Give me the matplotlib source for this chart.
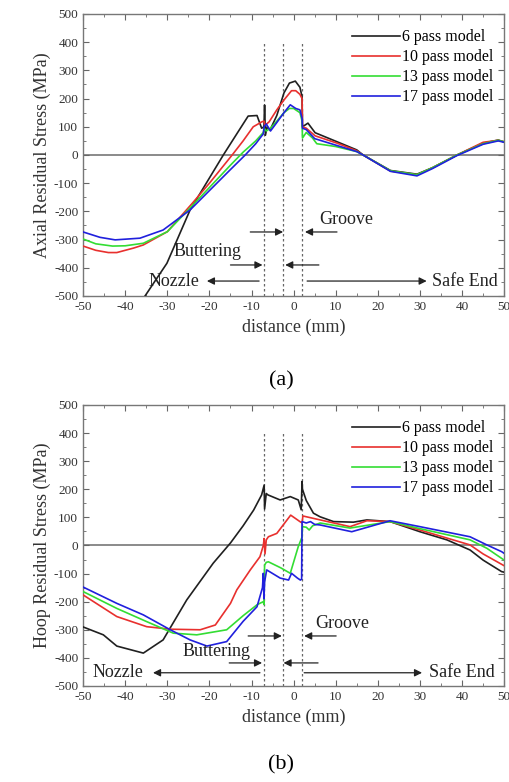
import matplotlib
matplotlib.use("Agg")
import matplotlib.pyplot as plt
from matplotlib.ticker import MultipleLocator

plt.rcParams['font.family'] = ['Liberation Serif', 'DejaVu Serif']
plt.rcParams['axes.unicode_minus'] = False

# ---- data ----
series_names = ['6 pass model', '10 pass model', '13 pass model', '17 pass model']
series_colors = ['#202020', '#e8302e', '#33dd33', '#2020dd']

# (a) axial residual stress
axial_x_6 = [-35.3, -30.1, -24.6, -16.7, -13.5, -10.8, -8.7, -7.6, -7.05, -6.9, -6.7, -6.3, -5.6,
             -4, -2.3, -1, 0.4, 1.5, 2.0, 2.1, 3.4, 5.1, 10.3, 15, 16.5, 23, 29.3, 33, 38.8, 45, 48.6, 50]
axial_y_6 = [-500, -384, -195, 0, 75, 138, 140, 95, 100, 177, 70, 100, 89,
             140, 220, 255, 262, 240, 207, 100, 113, 79, 47, 18, 0, -55, -68, -45, 0, 42, 53, 46]
axial_x_10 = [-50, -47, -44, -42, -38, -35.7, -30, -24, -20, -14.6, -12, -9.6, -7.5, -7.0, -6.8,
              -5.8, -4, -2.3, -0.5, 0.5, 1.5, 2.0, 2.1, 3.0, 5.1, 10.3, 15, 16.5, 23, 29.3, 33,
              38.8, 45, 48.6, 50]
axial_y_10 = [-323, -338, -346, -346, -330, -319, -272, -170, -100, 0, 50, 100, 118, 120, 105,
              118, 160, 195, 228, 228, 215, 200, 100, 95, 68, 42, 15, 0, -57, -70, -45,
              0, 45, 52, 47]
axial_x_13 = [-50, -47, -43, -40, -35.7, -30, -23.9, -15, -12, -9, -7.2, -7.0, -6.5, -5.5, -4,
              -2.3, -1, 0, 1.5, 2.0, 2.1, 3, 4.5, 5.5, 10, 15, 16.5, 23, 29.3, 33, 38.8, 45,
              48.6, 50]
axial_y_13 = [-298, -315, -323, -322, -313, -272, -177, -36, 10, 50, 80, 95, 85, 95, 120,
              150, 165, 165, 150, 120, 60, 80, 60, 40, 30, 12, 0, -56, -70, -45, 0, 40,
              52, 47]
axial_x_17 = [-50, -46, -42.4, -36.5, -31, -24.6, -15.1, -11.5, -9, -7.2, -7.0, -6.5, -5.5, -4,
              -2.3, -0.8, 0.5, 1.5, 2.0, 2.1, 3, 5, 10, 15, 16.5, 23, 29.3, 33, 38.8, 45,
              48.6, 50]
axial_y_17 = [-273, -292, -301, -295, -266, -195, -53, 0, 40, 75, 100, 110, 85, 115,
              150, 178, 165, 160, 130, 95, 90, 58, 35, 12, 0, -58, -74, -48, -2, 38,
              50, 45]

# (b) hoop residual stress
hoop_x_6 = [-50, -45.2, -42, -35.7, -31, -25.4, -19.1, -15, -12, -9.5, -7.6, -7.0, -6.9, -6.5,
            -6.1, -3.2, -0.8, 1.1, 1.8, 2.0, 2.1, 3, 4.7, 6.3, 9.5, 14.2, 17.4, 22.9, 30, 36.4,
            41.9, 45, 49.4, 50]
hoop_y_6 = [-290, -318, -358, -383, -336, -194, -63, 9, 70, 126, 180, 215, 130, 185,
            180, 162, 174, 162, 127, 228, 200, 160, 115, 102, 85, 83, 91, 85, 49, 20,
            -16, -52, -93, -95]
hoop_x_10 = [-50, -42, -34.9, -29.3, -22.2, -18.6, -15, -13.5, -10.3, -8, -7.2, -7.0, -6.8,
             -6.5, -6, -4, -0.7, 1.5, 2.0, 2.2, 6.3, 13.4, 17.4, 22.9, 30, 41.9, 45, 50]
hoop_y_10 = [-176, -253, -289, -298, -300, -283, -206, -158, -87, -40, 0, 25, -30,
             20, 31, 43, 108, 85, 80, 105, 91, 67, 88, 85, 55, 2, -30, -72]
hoop_x_13 = [-50, -42, -34.9, -28.6, -23, -15.9, -12, -8.6, -7.2, -7.05, -6.9, -6.5, -6, -3,
             -0.8, 1.1, 2.0, 2.1, 3.0, 3.7, 4.5, 6.3, 13.4, 22.9, 30, 41.9, 45.9, 50]
hoop_y_13 = [-164, -224, -271, -312, -318, -300, -250, -210, -200, -210, -70, -60, -58, -80,
             -99, -4, 30, 67, 65, 55, 70, 80, 62, 85, 60, 20, -10, -52]
hoop_x_17 = [-50, -42, -35.7, -29.3, -24.6, -20.6, -15.9, -12, -8.7, -7.4, -7.2, -7.05, -6.9,
             -6.4, -3.2, -1.2, -0.5, 0.9, 1.6, 1.9, 2.0, 3.0, 4.0, 5, 6.3, 13.8, 22.9, 30,
             41.9, 45.9, 49.4, 50]
hoop_y_17 = [-148, -206, -247, -300, -336, -358, -342, -270, -218, -150, -99, -190, -130,
             -87, -116, -123, -99, -116, -123, -120, 85, 80, 85, 75, 73, 49, 88, 67,
             31, 2, -22, -28]

boundaries = [-7, -2.5, 2]   # dashed region borders (mm)

fig = plt.figure(figsize=(5.10, 7.82), dpi=100)
ax_a = fig.add_axes([0.163, 0.6215, 0.8255, 0.3606])
ax_b = fig.add_axes([0.163, 0.1228, 0.8255, 0.3593])

panels = [
    (ax_a, [(axial_x_6, axial_y_6), (axial_x_10, axial_y_10),
            (axial_x_13, axial_y_13), (axial_x_17, axial_y_17)],
     'Axial Residual Stress (MPa)', '(a)', -0.3),
    (ax_b, [(hoop_x_6, hoop_y_6), (hoop_x_10, hoop_y_10),
            (hoop_x_13, hoop_y_13), (hoop_x_17, hoop_y_17)],
     'Hoop Residual Stress (MPa)', '(b)', -0.28),
]

arrow_kw = dict(arrowstyle='-|>', color='#222222', lw=0.9,
                mutation_scale=11, shrinkA=0, shrinkB=0)

for ax, curves, ylab, tag, tag_y in panels:
    ax.axhline(0, color='#777777', lw=1.2, zorder=1)
    for b in boundaries:
        ax.plot([b, b], [-500, 400], ls=(0, (2, 2)), color='#666666', lw=0.9, zorder=1)
    for (xs, ys), name, col in zip(curves, series_names, series_colors):
        ax.plot(xs, ys, color=col, lw=1.2, label=name, zorder=3)

    ax.set_xlim(-50, 50)
    ax.set_ylim(-500, 500)
    ax.xaxis.set_major_locator(MultipleLocator(10))
    ax.xaxis.set_minor_locator(MultipleLocator(5))
    ax.yaxis.set_major_locator(MultipleLocator(100))
    ax.yaxis.set_minor_locator(MultipleLocator(50))
    ax.tick_params(which='both', direction='in', top=True, right=True,
                   colors='#666666', labelcolor='#333333', labelsize=9.5)
    ax.tick_params(which='major', length=4)
    ax.tick_params(which='minor', length=2)
    for sp in ax.spines.values():
        sp.set_color('#777777')
        sp.set_linewidth(1.0)
    ax.set_xlabel('distance (mm)', fontsize=13, color='#333333', labelpad=4)
    ax.set_ylabel(ylab, fontsize=13, color='#333333', labelpad=2)
    ax.text(0.47, tag_y, tag, transform=ax.transAxes, ha='center', va='center', fontsize=16)

    ax.legend(loc='upper right', bbox_to_anchor=(1.0, 0.985), frameon=False,
              fontsize=11.5, handlelength=3.0, handletextpad=0.1,
              labelspacing=0.25, borderaxespad=0.3)

# annotations (a)
ax_a.text(6, -230, 'Groove', fontsize=13, va='center', color='#222222')
ax_a.annotate('', xy=(-2.5, -273), xytext=(-10.3, -273), arrowprops=arrow_kw)
ax_a.annotate('', xy=(2.7, -273), xytext=(10.3, -273), arrowprops=arrow_kw)
ax_a.text(-28.6, -344, 'Buttering', fontsize=13, va='center', color='#222222')
ax_a.annotate('', xy=(-7.4, -390), xytext=(-15, -390), arrowprops=arrow_kw)
ax_a.annotate('', xy=(-2, -390), xytext=(6, -390), arrowprops=arrow_kw)
ax_a.text(-34.5, -447, 'Nozzle', fontsize=13, va='center', color='#222222')
ax_a.annotate('', xy=(-20.6, -447), xytext=(-8.2, -447), arrowprops=arrow_kw)
ax_a.annotate('', xy=(31.6, -447), xytext=(3.2, -447), arrowprops=arrow_kw)
ax_a.text(32.8, -447, 'Safe End', fontsize=13, va='center', color='#222222')

# annotations (b)
ax_b.text(5.1, -276, 'Groove', fontsize=13, va='center', color='#222222')
ax_b.annotate('', xy=(-2.8, -322), xytext=(-10.8, -322), arrowprops=arrow_kw)
ax_b.annotate('', xy=(2.5, -322), xytext=(10.1, -322), arrowprops=arrow_kw)
ax_b.text(-26.5, -379, 'Buttering', fontsize=13, va='center', color='#222222')
ax_b.annotate('', xy=(-7.5, -418), xytext=(-15.3, -418), arrowprops=arrow_kw)
ax_b.annotate('', xy=(-2.4, -418), xytext=(5.8, -418), arrowprops=arrow_kw)
ax_b.text(-47.7, -453, 'Nozzle', fontsize=13, va='center', color='#222222')
ax_b.annotate('', xy=(-33.4, -453), xytext=(-8, -453), arrowprops=arrow_kw)
ax_b.annotate('', xy=(30.5, -453), xytext=(2.5, -453), arrowprops=arrow_kw)
ax_b.text(32.2, -453, 'Safe End', fontsize=13, va='center', color='#222222')

fig.savefig('out.png', dpi=100, facecolor='white')
